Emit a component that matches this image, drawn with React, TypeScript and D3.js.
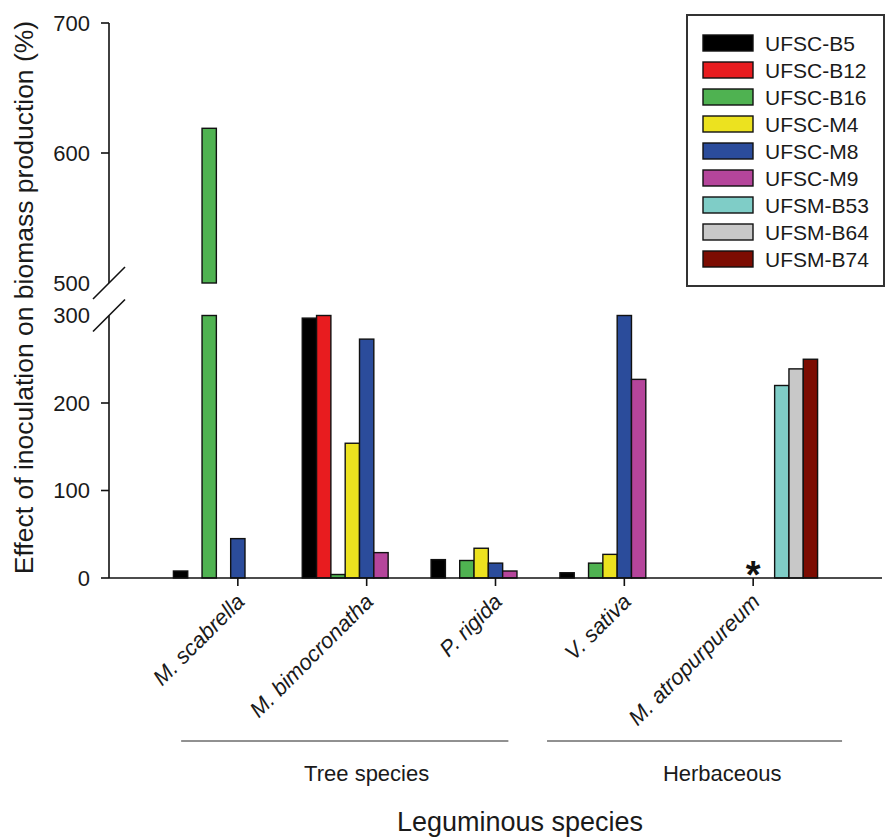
import React from "react";
import * as d3 from "d3";

const categories = ["M. scabrella", "M. bimocronatha", "P. rigida", "V. sativa", "M. atropurpureum"];
const seriesNames = ["UFSC-B5", "UFSC-B12", "UFSC-B16", "UFSC-M4", "UFSC-M8", "UFSC-M9", "UFSM-B53", "UFSM-B64", "UFSM-B74"];
const seriesColors = ["#000000", "#e81c1f", "#4fb251", "#ece21f", "#2b4c9b", "#b5459b", "#7fcdc7", "#c8c8c8", "#7c0c02"];

const ufscB5 = [8, 297, 21, 6, null];
const ufscB12 = [null, 300, null, null, null];
const ufscB16 = [619, 4, 20, 17, null];
const ufscM4 = [null, 154, 34, 27, null];
const ufscM8 = [45, 273, 17, 300, null];
const ufscM9 = [null, 29, 8, 227, null];
const ufsmB53 = [null, null, null, null, 220];
const ufsmB64 = [null, null, null, null, 239];
const ufsmB74 = [null, null, null, null, 250];
const seriesValues = [ufscB5, ufscB12, ufscB16, ufscM4, ufscM8, ufscM9, ufsmB53, ufsmB64, ufsmB74];

const lowerTicks = [0, 100, 200, 300];
const upperTicks = [500, 600, 700];
const groupLabels = [
  { text: "Tree species", from: 0.56, to: 3.1, center: 2.0 },
  { text: "Herbaceous", from: 3.4, to: 5.69, center: 4.76 },
];

const FONT = "'Liberation Sans', Arial, Helvetica, sans-serif";

export default function App() {
  const W = 887, H = 840;
  const axisX = 109;
  const x = d3.scaleLinear().domain([0, 6]).range([axisX, 882]);
  const unit = x(1) - x(0);
  const inner = d3.scaleBand<string>().domain(seriesNames).range([-unit / 2, unit / 2]).padding(0);
  const yL = d3.scaleLinear().domain([0, 300]).range([578, 315.5]);
  const yU = d3.scaleLinear().domain([500, 700]).range([283, 23]);
  const bw = inner.bandwidth();

  const bars: React.ReactNode[] = [];
  seriesValues.forEach((vals, si) => {
    vals.forEach((v, gi) => {
      if (v == null) return;
      const bx = x(gi + 1) + (inner(seriesNames[si]) as number);
      const lowTop = yL(Math.min(v, 300));
      bars.push(
        <rect key={`l${si}-${gi}`} x={bx} y={lowTop} width={bw} height={yL(0) - lowTop}
          fill={seriesColors[si]} stroke="#111" strokeWidth={1.4} />
      );
      if (v > 500) {
        const upTop = yU(v);
        bars.push(
          <rect key={`u${si}-${gi}`} x={bx} y={upTop} width={bw} height={yU(500) - upTop}
            fill={seriesColors[si]} stroke="#111" strokeWidth={1.4} />
        );
      }
    });
  });

  const tickLen = 8;
  const textColor = "#1a1a1a";

  return (
    <svg width={W} height={H} style={{ position: "absolute", left: 0, top: 0, background: "#fff" }} fontFamily={FONT}>
      {bars}
      {/* x axis */}
      <line x1={axisX} x2={x(6)} y1={yL(0)} y2={yL(0)} stroke="#111" strokeWidth={1.6} />
      {categories.map((c, i) => (
        <g key={c}>
          <line x1={x(i + 1)} x2={x(i + 1)} y1={yL(0)} y2={yL(0) + tickLen} stroke="#111" strokeWidth={1.6} />
          <text transform={`translate(${x(i + 1) + 8},${yL(0) + 25}) rotate(-45)`} textAnchor="end"
            fontStyle="italic" fontSize={22} fill={textColor}>{c}</text>
        </g>
      ))}
      {/* y axis lower */}
      <line x1={axisX} x2={axisX} y1={yL(0)} y2={yL(300)} stroke="#111" strokeWidth={1.6} />
      {lowerTicks.map((t) => (
        <g key={`lt${t}`}>
          {t < 300 && <line x1={axisX - tickLen} x2={axisX} y1={yL(t)} y2={yL(t)} stroke="#111" strokeWidth={1.6} />}
          <text x={axisX - 19} y={yL(t)} textAnchor="end" dominantBaseline="central" fontSize={22} fill={textColor}>{t}</text>
        </g>
      ))}
      {/* y axis upper */}
      <line x1={axisX} x2={axisX} y1={yU(500)} y2={yU(700)} stroke="#111" strokeWidth={1.6} />
      {upperTicks.map((t) => (
        <g key={`ut${t}`}>
          {t > 500 && <line x1={axisX - tickLen} x2={axisX} y1={yU(t)} y2={yU(t)} stroke="#111" strokeWidth={1.6} />}
          <text x={axisX - 19} y={yU(t)} textAnchor="end" dominantBaseline="central" fontSize={22} fill={textColor}>{t}</text>
        </g>
      ))}
      {/* break marks */}
      {[yU(500), yL(300)].map((yy, i) => (
        <line key={`br${i}`} x1={axisX - 16} y1={yy + 16} x2={axisX + 16} y2={yy - 16} stroke="#111" strokeWidth={1.6} />
      ))}
      {/* asterisk */}
      <text x={x(5)} y={yL(0) + 10} textAnchor="middle" fontSize={38} fontWeight="bold" fill="#111">*</text>
      {/* y label */}
      <text transform={`translate(24,${(20 + 575) / 2}) rotate(-90)`} textAnchor="middle" dominantBaseline="central"
        fontSize={26.5} fill={textColor}>Effect of inoculation on biomass production (%)</text>
      {/* group brackets */}
      {groupLabels.map((g) => (
        <g key={g.text}>
          <line x1={x(g.from)} x2={x(g.to)} y1={741} y2={741} stroke="#222" strokeWidth={1} />
          <text x={x(g.center)} y={781} textAnchor="middle" fontSize={22} fill={textColor}>{g.text}</text>
        </g>
      ))}
      {/* title */}
      <text x={520} y={831} textAnchor="middle" fontSize={27} fill={textColor}>Leguminous species</text>
      {/* legend */}
      <rect x={687} y={15} width={197} height={271} fill="#fff" stroke="#333" strokeWidth={2} />
      {seriesNames.map((s, i) => (
        <g key={s}>
          <rect x={703} y={43 + i * 27 - 8} width={50} height={16} fill={seriesColors[i]} stroke="#111" strokeWidth={1.4} />
          <text x={765} y={43 + i * 27} dominantBaseline="central" fontSize={21} fill={textColor}>{s}</text>
        </g>
      ))}
    </svg>
  );
}
